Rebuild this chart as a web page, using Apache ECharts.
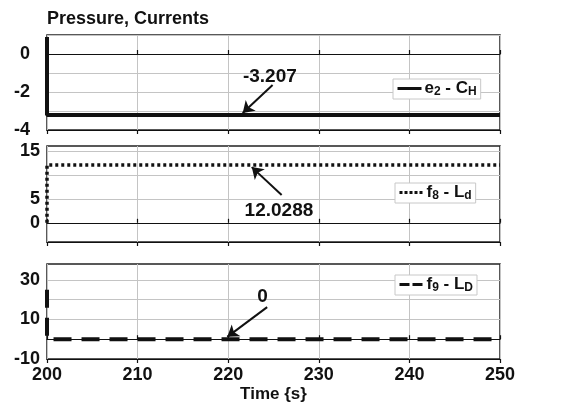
<!DOCTYPE html>
<html><head><meta charset="utf-8">
<script src="https://cdn.jsdelivr.net/npm/echarts@6/dist/echarts.min.js"></script>
<style>html,body{margin:0;padding:0;background:#fff}#c{width:567px;height:411px}</style>
</head><body><div id="c"></div>
<script>
// ---- data ----
const titleText = 'Pressure, Currents';
const xLabel = 'Time {s}';
const xTicks = [200, 210, 220, 230, 240, 250];
// series 1: e2 - CH
const e2Time = [200, 200, 250];
const e2Vals = [0.9, -3.207, -3.207];
// series 2: f8 - Ld
const f8Time = [200, 200, 250];
const f8Vals = [0, 12.0288, 12.0288];
// series 3: f9 - LD
const f9Time = [200, 200, 250];
const f9Vals = [25, 0, 0];
// y-axis ticks and labels per panel
const y1Ticks = [-4, -3, -2, -1, 0, 1];
const y1Labels = [-4, -2, 0];
const y2Ticks = [0, 5, 10, 15];
const y2Labels = [0, 5, 15];
const y3Ticks = [-10, 0, 10, 20, 30];
const y3Labels = [-10, 10, 30];
// annotations (data coordinates)
const ann1 = { text: '-3.207', pos: [224.6, -1.2], from: [224.9, -1.63], to: [221.6, -3.1] };
const ann2 = { text: '12.0288', pos: [225.6, 2.6], from: [225.9, 5.8], to: [222.6, 11.6] };
const ann3 = { text: '0', pos: [223.8, 21.5], from: [224.3, 16.2], to: [219.9, 1.2] };

const FONT = "'Liberation Sans', Arial, sans-serif";
const INK = '#111';
const grids = [
  { left: 47, right: 67, top: 35, height: 95 },
  { left: 47, right: 67, top: 146, height: 96 },
  { left: 47, right: 67, top: 264, height: 95 }
];
const yRanges = [[-4, 1], [-4, 16], [-10, 38]];
const yTickSets = [y1Ticks, y2Ticks, y3Ticks];
const yLabelSets = [y1Labels, y2Labels, y3Labels];
const yMargins = [17, 7, 7];

const xAxes = [], yAxes = [];
grids.forEach((g, i) => {
  g.show = true; g.borderColor = '#222'; g.borderWidth = 1.5; g.backgroundColor = '#fff';
  xAxes.push({
    type: 'value', gridIndex: i, min: 200, max: 250, interval: 10,
    axisLine: { show: false, onZero: false }, axisTick: { show: false },
    axisLabel: { show: i === 2, color: INK, fontSize: 18, fontWeight: 'bold', fontFamily: FONT, margin: 7 },
    splitLine: { show: true, lineStyle: { color: '#c4c4c4', width: 1 } },
    name: i === 2 ? xLabel : '', nameLocation: 'middle', nameGap: 27,
    nameTextStyle: { color: INK, fontSize: 17, fontWeight: 'bold', fontFamily: FONT }
  });
  [true, false].forEach(inside => {
    xAxes.push({
      type: 'value', gridIndex: i, min: 200, max: 250, interval: 10, position: 'bottom',
      axisLine: { show: true, onZero: true, lineStyle: { color: INK, width: 1.2 } },
      axisTick: { show: true, inside: inside, length: 4, lineStyle: { color: INK, width: 1.2 } },
      axisLabel: { show: false }, splitLine: { show: false }
    });
  });
  yAxes.push({
    type: 'value', gridIndex: i, min: yRanges[i][0], max: yRanges[i][1],
    axisLine: { show: false },
    axisTick: { show: false, customValues: yTickSets[i] },
    axisLabel: { show: true, customValues: yLabelSets[i], color: INK, fontSize: 18, fontWeight: 'bold', fontFamily: FONT, margin: yMargins[i] },
    splitLine: { show: true, lineStyle: { color: '#c4c4c4', width: 1 } }
  });
});

function pairs(xs, ys) { return xs.map((x, k) => [x, ys[k]]); }
function annot(a) {
  return {
    markLine: {
      silent: true, animation: false, symbol: ['none', 'arrow'], symbolSize: 11,
      lineStyle: { type: 'solid', color: INK, width: 2 },
      label: { show: false },
      data: [[{ coord: a.from }, { coord: a.to }]]
    },
    markPoint: {
      silent: true, animation: false, symbol: 'circle', symbolSize: 1,
      itemStyle: { color: 'rgba(0,0,0,0)' },
      label: { show: true, position: 'inside', color: INK, fontSize: 19, fontWeight: 'bold', fontFamily: FONT, formatter: p => p.name },
      data: [{ coord: a.pos, name: a.text }]
    }
  };
}

const series = [
  Object.assign({
    name: 'e2', type: 'line', xAxisIndex: 0, yAxisIndex: 0, symbol: 'none', animation: false,
    lineStyle: { color: INK, width: 4 }, itemStyle: { color: INK },
    data: pairs(e2Time, e2Vals)
  }, annot(ann1)),
  Object.assign({
    name: 'f8', type: 'line', xAxisIndex: 3, yAxisIndex: 1, symbol: 'none', animation: false,
    lineStyle: { color: INK, width: 3.5, type: [3, 3] }, itemStyle: { color: INK },
    data: pairs(f8Time, f8Vals)
  }, annot(ann2)),
  Object.assign({
    name: 'f9', type: 'line', xAxisIndex: 6, yAxisIndex: 2, symbol: 'none', animation: false,
    lineStyle: { color: INK, width: 4, type: [18, 10] }, itemStyle: { color: INK },
    data: pairs(f9Time, f9Vals)
  }, annot(ann3))
];

const rich = {
  b: { fontSize: 17, fontWeight: 'bold', fontFamily: FONT, color: INK },
  s: { fontSize: 12, fontWeight: 'bold', fontFamily: FONT, color: INK, verticalAlign: 'bottom', padding: [7, 0, 0, 0] }
};
function mkLegend(name, fmt, left, top, lineType) {
  return {
    data: [name], left: left, top: top, orient: 'horizontal',
    backgroundColor: '#fff', borderColor: '#c8c8c8', borderWidth: 1, padding: [1, 4, 1, 3],
    itemWidth: 24, itemHeight: 12, itemGap: 0, selectedMode: false,
    itemStyle: { color: 'rgba(0,0,0,0)', borderWidth: 0, opacity: 0 },
    lineStyle: lineType ? { type: lineType, width: 3 } : { width: 3 },
    formatter: () => fmt,
    textStyle: { color: INK, fontSize: 17, fontWeight: 'bold', fontFamily: FONT, rich: rich, padding: [0, 0, 0, -2] }
  };
}

const option = {
  animation: false,
  title: { text: titleText, left: 42, top: 5, textStyle: { color: INK, fontSize: 18, fontWeight: 'bold', fontFamily: FONT } },
  grid: grids, xAxis: xAxes, yAxis: yAxes, series: series,
  legend: [
    mkLegend('e2', '{b|e}{s|2}{b| - C}{s|H}', 393, 79, null),
    mkLegend('f8', '{b|f}{s|8}{b| - L}{s|d}', 395, 183, [3, 2]),
    mkLegend('f9', '{b|f}{s|9}{b| - L}{s|D}', 395, 275, [10, 3])
  ]
};
const chart = echarts.init(document.getElementById('c'), null, { renderer: 'canvas' });
chart.setOption(option);
</script></body></html>
